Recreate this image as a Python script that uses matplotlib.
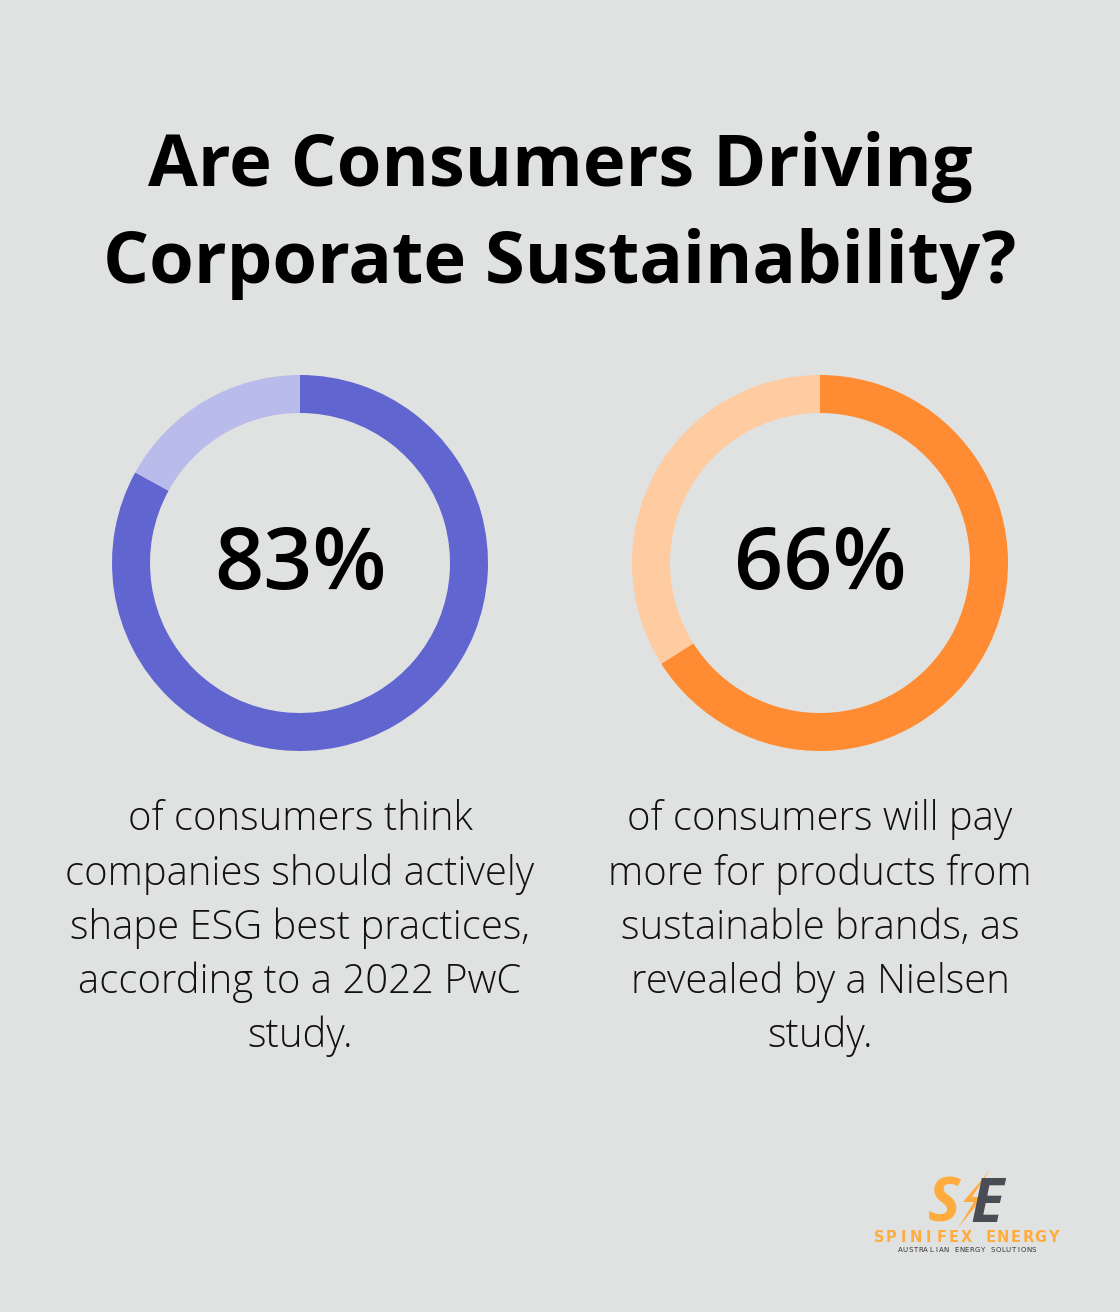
import matplotlib
matplotlib.use("Agg")
from matplotlib import pyplot as plt
from matplotlib.patches import Polygon

# data
percents = [83, 66]
labels = ["83%", "66%"]
main_colors = ["#6065cf", "#ff8c33"]
light_colors = ["#b9bbea", "#ffcba0"]
captions = [
    ["of consumers think", "companies should actively", "shape ESG best practices,",
     "according to a 2022 PwC", "study."],
    ["of consumers will pay", "more for products from", "sustainable brands, as",
     "revealed by a Nielsen", "study."],
]
title_lines = ["Are Consumers Driving", "Corporate Sustainability?"]
brand = "SPINIFEX ENERGY"
tagline = "AUSTRALIAN ENERGY SOLUTIONS"

W, H = 1120, 1312
bg = "#e0e2e1"
plt.rcParams['font.family'] = ['Open Sans', 'DejaVu Sans']

fig = plt.figure(figsize=(W / 100, H / 100), dpi=100)
fig.patch.set_facecolor(bg)

def fx(x):
    return x / W

def fy(y):
    return 1 - y / H

fig.text(0.5, fy(167), title_lines[0], ha="center", va="center", fontsize=52,
         fontweight="bold", color="#000000")
fig.text(0.5, fy(264), title_lines[1], ha="center", va="center", fontsize=52,
         fontweight="bold", color="#000000")

centers = [300, 820]
cy = 563
r = 188
for i in range(2):
    cx = centers[i]
    ax = fig.add_axes([fx(cx - r), fy(cy + r), 2 * r / W, 2 * r / H])
    ax.pie([percents[i], 100 - percents[i]], colors=[main_colors[i], light_colors[i]],
           startangle=90, counterclock=False, radius=1,
           wedgeprops=dict(width=38 / r, linewidth=0))
    ax.set_xlim(-1, 1)
    ax.set_ylim(-1, 1)
    ax.set_aspect("equal")
    ax.axis("off")
    fig.text(fx(cx), fy(cy + 4), labels[i], ha="center", va="center", fontsize=62,
             fontweight="semibold", color="#000000")
    for j, line in enumerate(captions[i]):
        fig.text(fx(cx), fy(820 + 54 * j), line, ha="center", va="center",
                 fontsize=28.8, fontweight="light", color="#111111")

# logo (rough)
orange = "#ffab3d"
grey = "#4a4e54"
fig.text(fx(944), fy(1199), "S", ha="center", va="baseline", fontsize=44,
         fontweight="bold", fontstyle="italic", color=orange,
         transform=fig.transFigure).set_va("center_baseline")
fig.text(fx(987), fy(1199), "E", ha="center", va="center_baseline", fontsize=44,
         fontweight="bold", fontstyle="italic", color=grey)
bolt = [(990, 1170), (963, 1202), (974, 1202), (958, 1228), (983, 1197), (972, 1197)]
fig.patches.append(Polygon([(fx(x), fy(y)) for x, y in bolt], closed=True,
                           transform=fig.transFigure, facecolor=orange, edgecolor="none"))
step = (1053 - 879) / (len(brand) - 1)
for k, ch in enumerate(brand):
    fig.text(fx(879 + step * k), fy(1237), ch, ha="center", va="center", fontsize=10.5,
             fontweight="bold", color=orange, family="DejaVu Sans")
step2 = (1034 - 900) / (len(tagline) - 1)
for k, ch in enumerate(tagline):
    fig.text(fx(900 + step2 * k), fy(1250), ch, ha="center", va="center", fontsize=5,
             color="#333333", family="DejaVu Sans")

fig.savefig("out.png", dpi=100, facecolor=bg)
